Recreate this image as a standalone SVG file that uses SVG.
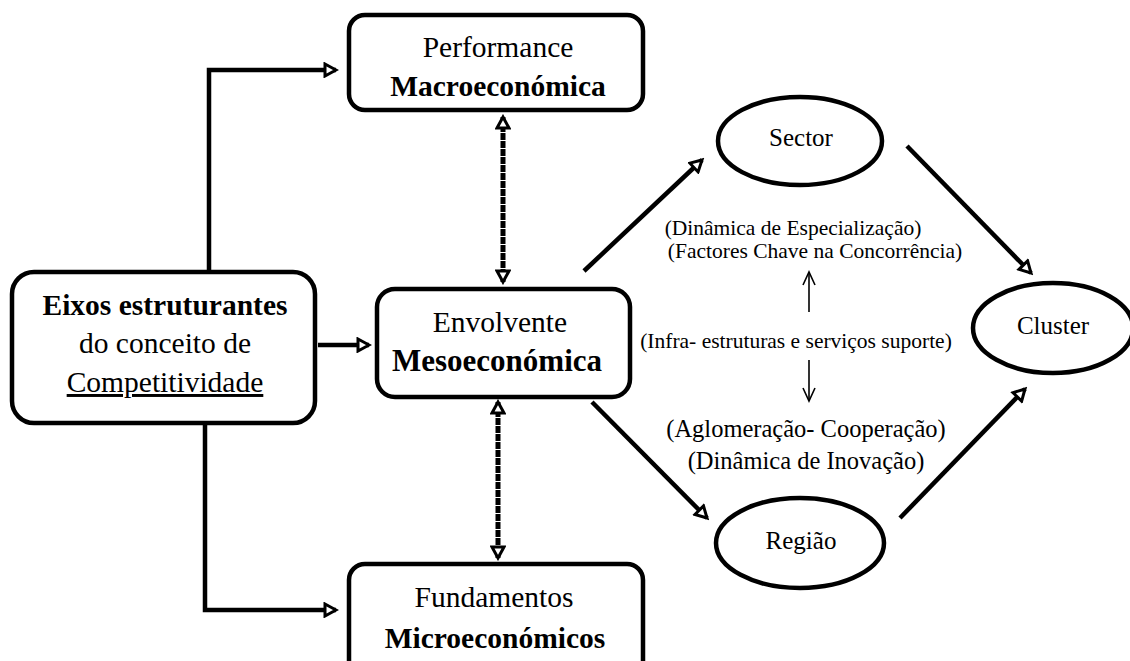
<svg xmlns="http://www.w3.org/2000/svg" width="1130" height="661" viewBox="0 0 1130 661">
<style>
.box{fill:#fff;stroke:#000;stroke-width:4.5}
.ell{fill:#fff;stroke:#000;stroke-width:4.5}
.t{font-family:"Liberation Serif","Times New Roman",serif;fill:#000;text-anchor:middle}
.big{font-size:29.5px}
.b{font-weight:bold}
.lab{font-size:21.5px}
.lab2{font-size:24.5px}
.nm{font-size:25px}
.con{fill:none;stroke:#000;stroke-width:4.5}
.dash{fill:none;stroke:#000;stroke-width:5;stroke-dasharray:7 1}
.thin{fill:none;stroke:#000;stroke-width:1.6}
</style>
<defs>
<marker id="ah" markerUnits="userSpaceOnUse" viewBox="0 0 16 16" refX="13" refY="8" markerWidth="16" markerHeight="16" orient="auto-start-reverse">
<path d="M2,2 L13,8 L2,14 z" fill="#fff" stroke="#000" stroke-width="3" stroke-linejoin="miter"/>
</marker>
<marker id="va" markerUnits="userSpaceOnUse" viewBox="0 0 16 16" refX="14" refY="8" markerWidth="16" markerHeight="16" orient="auto">
<path d="M1,2 L14,8 L1,14" fill="none" stroke="#000" stroke-width="1.6"/>
</marker>
</defs>
<rect width="1130" height="661" fill="#fff"/>
<g id="connectors">
<polyline class="con" points="209,270 209,70 336,70" marker-end="url(#ah)"/>
<line class="con" x1="318" y1="345" x2="369" y2="345" marker-end="url(#ah)"/>
<polyline class="con" points="205,422 205,610 336,610" marker-end="url(#ah)"/>
<line class="dash" x1="503" y1="117" x2="503" y2="282" marker-start="url(#ah)" marker-end="url(#ah)"/>
<line class="dash" x1="498" y1="402" x2="498" y2="558" marker-start="url(#ah)" marker-end="url(#ah)"/>
<line class="con" x1="584" y1="271" x2="702" y2="160" marker-end="url(#ah)"/>
<line class="con" x1="907" y1="146" x2="1031" y2="273" marker-end="url(#ah)"/>
<line class="con" x1="592" y1="402" x2="707" y2="518" marker-end="url(#ah)"/>
<line class="con" x1="900" y1="518" x2="1025" y2="389" marker-end="url(#ah)"/>
<line class="thin" x1="809" y1="312" x2="809" y2="272" marker-end="url(#va)"/>
<line class="thin" x1="809" y1="360" x2="809" y2="401" marker-end="url(#va)"/>
</g>
<g id="performance">
<rect class="box" x="349" y="15" width="294" height="95" rx="16"/>
<text class="t big" x="498" y="57">Performance</text>
<text class="t big b" x="498" y="96">Macroeconómica</text>
</g>
<g id="eixos">
<rect class="box" x="12" y="272" width="303" height="151" rx="22"/>
<text class="t big b" x="165" y="315">Eixos estruturantes</text>
<text class="t big" x="165" y="353">do conceito de</text>
<text class="t big" x="165" y="392" text-decoration="underline">Competitividade</text>
</g>
<g id="envolvente">
<rect class="box" x="377" y="289" width="253" height="108" rx="18"/>
<text class="t big" x="500" y="332">Envolvente</text>
<text class="t big b" x="497" y="371" style="font-size:31px">Mesoeconómica</text>
</g>
<g id="fundamentos">
<rect class="box" x="349" y="564" width="294" height="115" rx="16"/>
<text class="t big" x="494" y="607">Fundamentos</text>
<text class="t big b" x="495" y="648">Microeconómicos</text>
</g>
<g id="sector">
<ellipse class="ell" cx="800" cy="141" rx="82" ry="44"/>
<text class="t nm" x="801" y="146">Sector</text>
</g>
<g id="cluster">
<ellipse class="ell" cx="1053" cy="328" rx="80" ry="45"/>
<text class="t nm" x="1053" y="334">Cluster</text>
</g>
<g id="regiao">
<ellipse class="ell" cx="800" cy="543" rx="84" ry="45"/>
<text class="t nm" x="801" y="549">Região</text>
</g>
<g id="labels">
<text class="t lab" x="793" y="235">(Dinâmica de Especialização)</text>
<text class="t lab" x="815" y="258">(Factores Chave na Concorrência)</text>
<text class="t lab" x="796" y="348">(Infra- estruturas e serviços suporte)</text>
<text class="t lab2" x="806" y="437">(Aglomeração- Cooperação)</text>
<text class="t lab2" x="806" y="469">(Dinâmica de Inovação)</text>
</g>
</svg>
